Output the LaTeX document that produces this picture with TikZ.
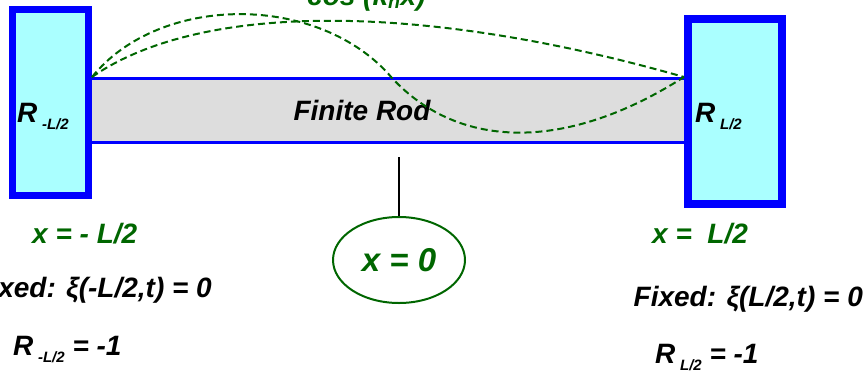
\documentclass[tikz,border=0pt]{standalone}
\usepackage{fontspec}
\setmainfont{Liberation Sans}
\usetikzlibrary{shapes.geometric}
\definecolor{rodblue}{RGB}{0,0,255}
\definecolor{boxcyan}{RGB}{170,255,255}
\definecolor{rodgray}{RGB}{221,221,221}
\definecolor{dkgreen}{RGB}{0,102,0}
\newcommand\sbs[1]{\raisebox{-7pt}{\fontsize{15}{15}\selectfont #1}}
\begin{document}
\begin{tikzpicture}[x=1pt,y=-1pt,
  lbl/.style={inner sep=0pt, font=\fontsize{28}{30}\selectfont\bfseries\itshape},
  glbl/.style={lbl, text=dkgreen},
  endbox/.style={draw=rodblue, fill=boxcyan, inner sep=0pt},
  rodline/.style={draw=rodblue, line width=3pt},
  mode/.style={draw=dkgreen, line width=2pt, dash pattern=on 7pt off 4pt},
]
\useasboundingbox (0,0) rectangle (864,370);
\clip (0,0) rectangle (864,370);
% rod
\node[fill=rodgray, inner sep=0pt, minimum width=592pt, minimum height=63pt] (rod) at (388,110.5) {};
\draw[rodline] (rod.north west) -- (rod.north east);
\draw[rodline] (rod.south west) -- (rod.south east);
\node[lbl] (rodlabel) at (362,110) {Finite Rod};
% end boxes
\node[endbox, line width=7pt, minimum width=76pt, minimum height=186pt] (lbox) at (50.5,102.5) {};
\node[endbox, line width=7.5pt, minimum width=94pt, minimum height=185pt] (rbox) at (735,111.5) {};
\node[lbl, anchor=base west] (lR) at (17,122) {R\,\sbs{-L/2}};
\node[lbl, anchor=base west] (rR) at (695,122) {R\,\sbs{L/2}};
% attach points
\coordinate (la) at (92,77);
\coordinate (ra) at (684,77);
% mode shapes
\draw[mode] (la) .. controls (160,-7) and (320,-7) .. (392,78)
               .. controls (460,151) and (568,151) .. (ra);
\draw[mode] (la) .. controls (200,2) and (421,2) .. (ra);
\node[glbl, anchor=base west] (modelabel) at (307,5) {cos (k\textsubscript{n}x)};
% centre marker
\node[ellipse, draw=dkgreen, line width=2pt, minimum width=132pt, minimum height=86pt, inner sep=0pt,
      font=\fontsize{33}{35}\selectfont\bfseries\itshape, text=dkgreen] (centre) at (399,260) {x = 0};
\coordinate (ctop) at (399,157);
\draw[line width=2pt] (ctop) -- (centre.north);
% left annotations
\node[glbl, anchor=base west] (lx) at (32,243) {x = - L/2};
\node[lbl, anchor=base east] (lfix) at (212,297) {Fixed: ξ(-L/2,t) = 0};
\node[lbl, anchor=base west] (lref) at (13,355) {R\,\sbs{-L/2} = -1};
% right annotations
\node[glbl, anchor=base west] (rx) at (652,243) {x =\ \ L/2};
\node[lbl, anchor=base east] (rfix) at (863,306) {Fixed: ξ(L/2,t) = 0};
\node[lbl, anchor=base west] (rref) at (655,363) {R\,\sbs{L/2} = -1};
\end{tikzpicture}
\end{document}
